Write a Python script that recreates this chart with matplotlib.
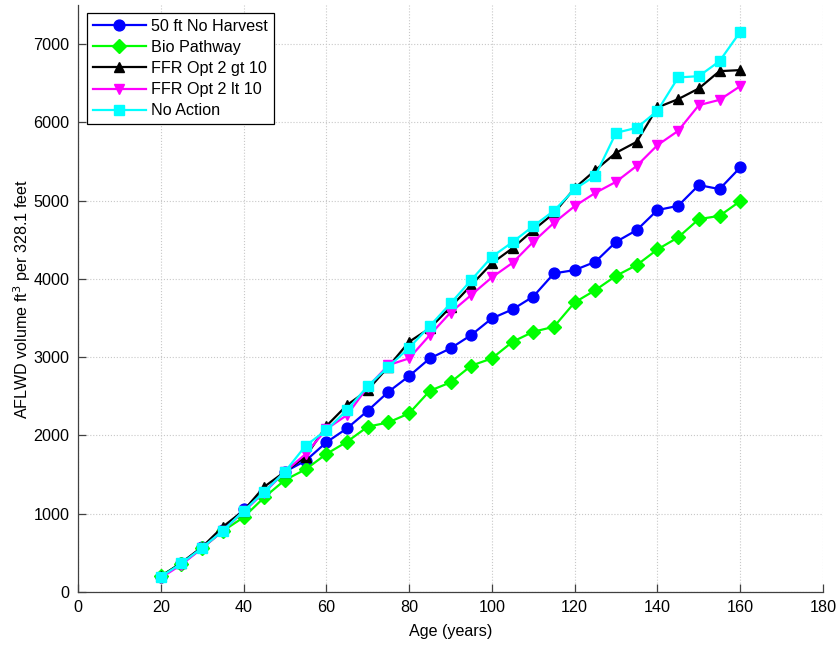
import matplotlib
matplotlib.use("Agg")
import matplotlib.pyplot as plt

plt.rcParams['font.family'] = ['Liberation Sans', 'DejaVu Sans']

ages = list(range(20, 165, 5))

no_harvest_50ft = [190, 370, 570, 790, 1056, 1280, 1537, 1677, 1912, 2091, 2316, 2558,
                   2759, 2985, 3113, 3283, 3496, 3611, 3775, 4071, 4113, 4219, 4474,
                   4624, 4880, 4934, 5199, 5148, 5424]
bio_pathway = [210, 360, 560, 780, 954, 1209, 1431, 1567, 1763, 1920, 2112, 2167,
               2282, 2571, 2678, 2891, 2985, 3197, 3325, 3389, 3700, 3857, 4040,
               4177, 4377, 4531, 4764, 4806, 4994]
ffr_gt10 = [200, 375, 575, 834, 1040, 1345, 1537, 1729, 2120, 2388, 2580, 2880,
            3197, 3370, 3640, 3920, 4200, 4393, 4624, 4840, 5160, 5390, 5612,
            5752, 6191, 6297, 6434, 6655, 6668]
ffr_lt10 = [180, 350, 560, 780, 1030, 1270, 1537, 1763, 2080, 2261, 2620, 2899,
            2985, 3283, 3570, 3794, 4020, 4206, 4474, 4717, 4930, 5100, 5241,
            5445, 5709, 5892, 6220, 6288, 6463]
no_action = [196, 366, 566, 783, 1035, 1281, 1537, 1869, 2069, 2325, 2631, 2878,
             3121, 3398, 3687, 3985, 4283, 4471, 4675, 4871, 5148, 5318, 5867,
             5931, 6148, 6574, 6591, 6782, 7157]

series = [
    ("50 ft No Harvest", no_harvest_50ft, (0, 0, 1), "o"),
    ("Bio Pathway", bio_pathway, (0, 1, 0), "D"),
    ("FFR Opt 2 gt 10", ffr_gt10, (0, 0, 0), "^"),
    ("FFR Opt 2 lt 10", ffr_lt10, (1, 0, 1), "v"),
    ("No Action", no_action, (0, 1, 1), "s"),
]

FS = 11.6

fig = plt.figure(figsize=(8.38, 6.46), dpi=100)
ax = fig.add_axes([78 / 838, 54 / 646, 745 / 838, 587 / 646])

for label, vals, color, marker in series:
    ms = 6.8 if marker in ("D", "s") else 7.8
    ax.plot(ages, vals, color=color, marker=marker, markersize=ms,
            linewidth=1.6, label=label, markeredgecolor=color)

ax.set_xlim(0, 180)
ax.set_ylim(0, 7500)
ax.set_xticks(range(0, 181, 20))
ax.set_yticks(range(0, 7001, 1000))
ax.grid(True, linestyle=':', color='#c8c8c8', linewidth=0.8)
ax.set_axisbelow(True)

for side in ("top", "right"):
    ax.spines[side].set_visible(False)
for side in ("left", "bottom"):
    ax.spines[side].set_color('#404040')
    ax.spines[side].set_linewidth(0.9)
ax.tick_params(direction='in', length=6, width=0.9, color='#404040',
               labelsize=FS, pad=6)

ax.set_xlabel("Age (years)", fontsize=FS, labelpad=6)
ax.set_ylabel("AFLWD volume ft$^3$ per 328.1 feet", fontsize=FS, labelpad=0.5)

leg = ax.legend(loc='upper left', bbox_to_anchor=(0.012, 0.986), fontsize=FS,
                handlelength=3.3, fancybox=False, framealpha=1,
                edgecolor='black', borderpad=0.35, labelspacing=0.38,
                handletextpad=0.35, borderaxespad=0.0)
leg.get_frame().set_linewidth(0.9)

fig.savefig("out.png", dpi=100)
